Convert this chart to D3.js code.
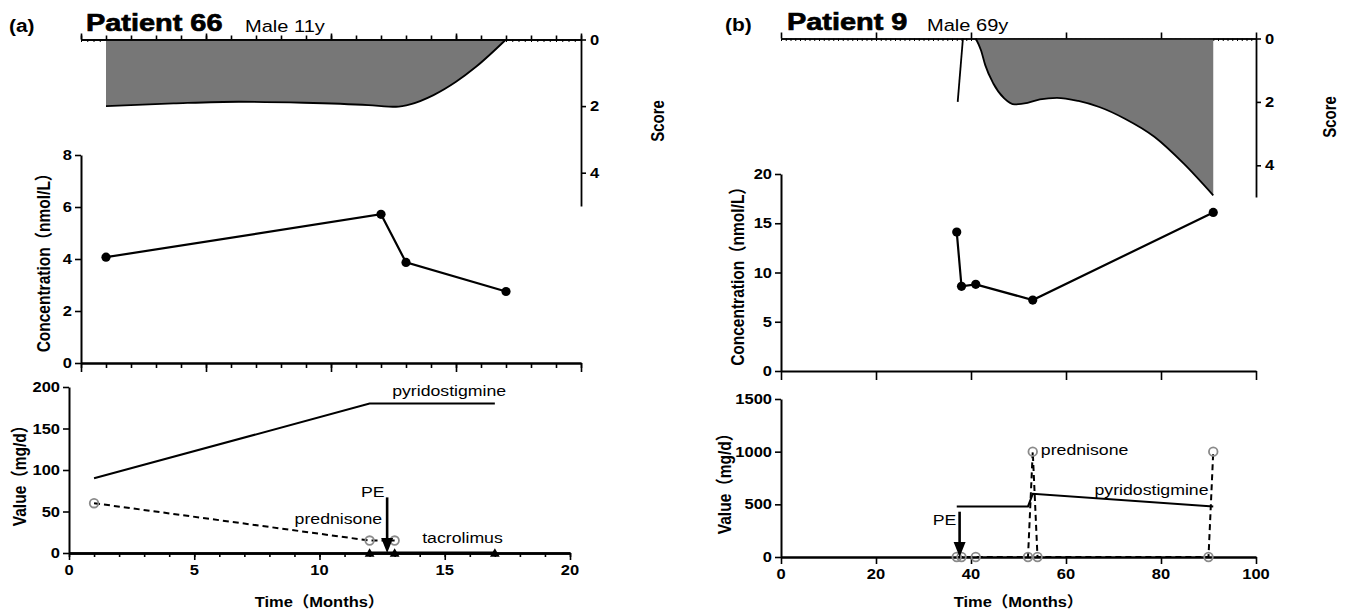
<!DOCTYPE html>
<html><head><meta charset="utf-8">
<script src="https://cdn.jsdelivr.net/npm/d3@7"></script>
<style>
body{margin:0;background:#fff}
svg{display:block}
text{font-family:"Liberation Sans",Arial,"Noto Sans CJK SC",sans-serif;fill:#000}
</style>
</head><body>
<svg id="c" width="1352" height="611"></svg>
<script>
// ---------------- DATA ----------------
// Panel (a) – Patient 66
const aScoreMonths = [1, 3.7, 6.3, 8.9, 11.5, 12.6, 13.2, 14.1, 15, 15.8, 17];
const aScoreValues = [2, 1.92, 1.87, 1.9, 1.97, 2.02, 1.94, 1.67, 1.27, 0.82, 0];
const aConcMonths = [1, 12, 13, 17];
const aConcValues = [4.07, 5.72, 3.87, 2.75];
const aPyrMonths = [1, 12, 17];
const aPyrValues = [90, 180, 180];
const aPredMonths = [1, 12, 13];
const aPredValues = [60, 15, 15];
const aTacMonths = [12, 13, 17];
const aTacValues = [0, 0, 0];
const aPEMonth = 12.7, aPEValue = 67;
const aXTicks = [0, 5, 10, 15, 20];
const aConcTicks = [0, 2, 4, 6, 8];
const aDoseTicks = [0, 50, 100, 150, 200];

// Panel (b) – Patient 9
const bSpikeMonths = [37.2, 38.3];
const bSpikeValues = [2, 0];
const bScoreMonths = [41, 42.1, 43, 44.7, 47, 49.2, 51.9, 54.5, 58.1, 62.6, 67, 72.4, 78.6, 84.8, 91];
const bScoreValues = [0, 0.37, 0.84, 1.42, 1.89, 2.08, 2.03, 1.92, 1.87, 1.97, 2.16, 2.53, 3.1, 3.95, 4.95];
const bConcMonths = [37, 38, 41, 53, 91];
const bConcValues = [14.1, 8.6, 8.8, 7.2, 16.1];
const bPyrMonths = [37, 52, 53, 91];
const bPyrValues = [480, 480, 600, 480];
const bPredMonths = [37, 38, 41, 52, 53, 54, 90, 91];
const bPredValues = [0, 0, 0, 0, 1000, 0, 0, 1000];
const bPEMonth = 37.6, bPEValue = 430;
const bXTicks = [0, 20, 40, 60, 80, 100];
const bConcTicks = [0, 5, 10, 15, 20];
const bDoseTicks = [0, 500, 1000, 1500];
const scoreTicks = [0, 2, 4];

// ---------------- DRAW ----------------
const svg = d3.select("#c");
const SX = 1.18; // horizontal stretch of the source figure's lettering

function txt(g, x, y, s, opt = {}) {
  const t = g.append("text")
    .attr("transform", `translate(${x},${y}) scale(${opt.sx || SX},1)` + (opt.rot ? " rotate(-90)" : ""))
    .attr("text-anchor", opt.anchor || "start")
    .attr("font-size", opt.size || 15)
    .attr("font-weight", opt.bold ? "bold" : "normal")
    .text(s);
  if (opt.baseline) t.attr("dominant-baseline", opt.baseline);
  if (opt.heavy) t.attr("stroke", "#000").attr("stroke-width", opt.heavy);
  return t;
}

function styleAxis(g, w) {
  g.select(".domain").attr("stroke", "#000").attr("stroke-width", w || 2);
  g.selectAll(".tick line").attr("stroke", "#000").attr("stroke-width", 1.6);
  g.selectAll(".tick text").remove();
}

function axisLabels(g, scale, ticks, orient, off) {
  ticks.forEach(v => {
    if (orient === "left") txt(g, -off, scale(v), String(v), {anchor: "end", size: 14, bold: true, baseline: "central"});
    else if (orient === "right") txt(g, off, scale(v), String(v), {anchor: "start", size: 14, bold: true, baseline: "central"});
    else txt(g, scale(v), off, String(v), {anchor: "middle", size: 14, bold: true, baseline: "hanging"});
  });
}

function panel(cfg, d) {
  const g = svg.append("g");
  // Header
  txt(g, cfg.hdr.lx, cfg.hdr.y, cfg.label, {size: 19, bold: true, sx: 1.1});
  txt(g, cfg.hdr.px, cfg.hdr.y - 1, cfg.patient, {size: 24.5, bold: true, heavy: 0.7});
  txt(g, cfg.hdr.mx, cfg.hdr.y, cfg.info, {size: 17});

  // ----- Score panel -----
  const xT = d3.scaleLinear().domain(cfg.xDomain).range([cfg.top.x0, cfg.top.x1]);
  const yS = d3.scaleLinear().domain([0, 5]).range([cfg.top.y0, cfg.top.y1]);
  const area = d3.area().x(p => xT(p[0])).y0(yS(0)).y1(p => yS(p[1])).curve(d3.curveMonotoneX);
  const line = d3.line().x(p => xT(p[0])).y(p => yS(p[1])).curve(d3.curveMonotoneX);
  // small downward ticks on top axis
  const gTd = g.append("g").attr("transform", `translate(0,${yS(0)})`);
  gTd.call(d3.axisBottom(xT).tickValues(d3.range(cfg.xDomain[0], cfg.xDomain[1] + 0.01, cfg.dotStep)).tickSize(2.5).tickSizeOuter(0));
  styleAxis(gTd, 1.6);
  gTd.selectAll(".tick line").attr("stroke-width", 1);
  d.score.forEach(seg => {
    const pts = d3.zip(seg.m, seg.v);
    if (seg.fill) g.append("path").attr("d", area(pts)).attr("fill", "#777");
    g.append("path").attr("d", line(pts)).attr("fill", "none").attr("stroke", "#000").attr("stroke-width", 1.8);
  });
  // upward ticks
  if (cfg.minorStep) {
    const gTop = g.append("g").attr("transform", `translate(0,${yS(0)})`);
    gTop.call(d3.axisTop(xT).tickValues(d3.range(cfg.xDomain[0], cfg.xDomain[1] + 0.01, cfg.minorStep)).tickSize(4).tickSizeOuter(0));
    styleAxis(gTop, 1.6);
  }
  const gTop2 = g.append("g").attr("transform", `translate(0,${yS(0)})`);
  gTop2.call(d3.axisTop(xT).tickValues(d.xTicks).tickSize(6).tickSizeOuter(0));
  styleAxis(gTop2, 1.6);
  // right score axis
  const gR = g.append("g").attr("transform", `translate(${cfg.top.x1},0)`);
  gR.call(d3.axisRight(yS).tickValues(scoreTicks).tickSize(5).tickSizeOuter(0));
  styleAxis(gR, 1.8);
  axisLabels(gR, yS, scoreTicks, "right", 9);
  txt(g, cfg.scoreLblX, cfg.scoreLblY, "Score", {size: 15, bold: true, rot: true, anchor: "middle"});

  // ----- Concentration panel -----
  const xM = d3.scaleLinear().domain(cfg.xDomain).range([cfg.mid.x0, cfg.mid.x1]);
  const yC = d3.scaleLinear().domain(cfg.mid.dom).range([cfg.mid.y0, cfg.mid.y1]);
  const gMx = g.append("g").attr("transform", `translate(0,${yC(0)})`);
  if (cfg.minorMid) {
    gMx.call(d3.axisBottom(xM).tickValues(d3.range(cfg.xDomain[0], cfg.xDomain[1] + 0.01, cfg.minorMid)).tickSize(5).tickSizeOuter(0));
    styleAxis(gMx, 2);
  }
  const gMx2 = g.append("g").attr("transform", `translate(0,${yC(0)})`);
  gMx2.call(d3.axisBottom(xM).tickValues(d.xTicks).tickSize(9).tickSizeOuter(0));
  styleAxis(gMx2, 2);
  const gMy = g.append("g").attr("transform", `translate(${cfg.mid.x0},0)`);
  gMy.call(d3.axisLeft(yC).tickValues(d.concTicks).tickSize(6).tickSizeOuter(0));
  styleAxis(gMy, 2);
  axisLabels(gMy, yC, d.concTicks, "left", 9);
  const cPts = d3.zip(d.concM, d.concV);
  g.append("path").attr("d", d3.line().x(p => xM(p[0])).y(p => yC(p[1]))(cPts))
    .attr("fill", "none").attr("stroke", "#000").attr("stroke-width", 2.2);
  g.selectAll(null).data(cPts).enter().append("circle")
    .attr("cx", p => xM(p[0])).attr("cy", p => yC(p[1])).attr("r", 4.6).attr("fill", "#000");
  txt(g, cfg.concLblX, (cfg.mid.y0 + cfg.mid.y1) / 2 + cfg.concLblDy, "Concentration（nmol/L）", {size: 15.5, bold: true, rot: true, anchor: "middle"});

  // ----- Dose panel -----
  const xB = d3.scaleLinear().domain(cfg.xDomain).range([cfg.bot.x0, cfg.bot.x1]);
  const yD = d3.scaleLinear().domain(cfg.bot.dom).range([cfg.bot.y0, cfg.bot.y1]);
  // pyridostigmine
  g.append("path").attr("d", d3.line().x(p => xB(p[0])).y(p => yD(p[1]))(d3.zip(d.pyrM, d.pyrV)))
    .attr("fill", "none").attr("stroke", "#000").attr("stroke-width", 2);
  // prednisone dashed
  const prPts = d3.zip(d.predM, d.predV);
  g.append("path").attr("d", d3.line().x(p => xB(p[0])).y(p => yD(p[1]))(prPts))
    .attr("fill", "none").attr("stroke", "#000").attr("stroke-width", 2).attr("stroke-dasharray", "6,4");
  // tacrolimus
  if (d.tacM) {
    const tPts = d3.zip(d.tacM, d.tacV);
    g.append("path").attr("d", d3.line().x(p => xB(p[0])).y(p => yD(p[1]))(tPts))
      .attr("fill", "none").attr("stroke", "#000").attr("stroke-width", 3);
  }
  // axes
  if (cfg.minorBot) {
    const gBm = g.append("g").attr("transform", `translate(0,${yD(0)})`);
    gBm.call(d3.axisBottom(xB).tickValues(d3.range(cfg.xDomain[0], cfg.xDomain[1] + 0.01, cfg.minorBot)).tickSize(4).tickSizeOuter(0));
    styleAxis(gBm, 2.6);
  }
  const gBx = g.append("g").attr("transform", `translate(0,${yD(0)})`);
  gBx.call(d3.axisBottom(xB).tickValues(d.xTicks).tickSize(7).tickSizeOuter(0));
  styleAxis(gBx, 2.6);
  axisLabels(gBx, xB, d.xTicks, "bottom", 12);
  const gBy = g.append("g").attr("transform", `translate(${cfg.bot.x0},0)`);
  gBy.call(d3.axisLeft(yD).tickValues(d.doseTicks).tickSize(6).tickSizeOuter(0));
  styleAxis(gBy, 2);
  axisLabels(gBy, yD, d.doseTicks, "left", 9);
  // prednisone circles
  g.selectAll(null).data(prPts).enter().append("circle")
    .attr("cx", p => xB(p[0])).attr("cy", p => yD(p[1])).attr("r", 4.3)
    .attr("fill", "none").attr("stroke", "#8a8a8a").attr("stroke-width", 1.8);
  if (d.tacM) {
    g.selectAll(null).data(d3.zip(d.tacM, d.tacV)).enter().append("path")
      .attr("d", d3.symbol(d3.symbolTriangle, 42))
      .attr("transform", p => `translate(${xB(p[0])},${yD(p[1]) + 1})`).attr("fill", "#000");
  }
  // PE arrow
  const ax = xB(d.peM), aTop = yD(d.peV), aBot = yD(0);
  g.append("line").attr("x1", ax).attr("x2", ax).attr("y1", aTop).attr("y2", aBot - 12)
    .attr("stroke", "#000").attr("stroke-width", 2.6);
  g.append("path").attr("d", `M${ax - 6},${aBot - 15}L${ax + 6},${aBot - 15}L${ax},${aBot}Z`).attr("fill", "#000");
  // annotations
  cfg.notes.forEach(n => txt(g, xB(n.m), yD(n.v), n.t, {size: 15, anchor: n.a || "start"}));
  txt(g, cfg.doseLblX, (cfg.bot.y0 + cfg.bot.y1) / 2 + 2, "Value（mg/d）", {size: 15.5, bold: true, rot: true, anchor: "middle"});
  txt(g, (cfg.bot.x0 + cfg.bot.x1) / 2, 607, "Time（Months）", {size: 15, bold: true, anchor: "middle", sx: 1.1});
}

panel({
  label: "(a)", patient: "Patient 66", info: "Male 11y",
  hdr: {lx: 9, px: 86, mx: 245, y: 32},
  xDomain: [0, 20], minorStep: 1, dotStep: 0.25, minorMid: 1, minorBot: 1,
  top: {x0: 81, x1: 581, y0: 39.5, y1: 206},
  scoreLblX: 664, scoreLblY: 121,
  mid: {x0: 81, x1: 581, y0: 363, y1: 155, dom: [0, 8]},
  concLblX: 50, concLblDy: 0,
  bot: {x0: 69, x1: 570, y0: 553, y1: 387, dom: [0, 200]},
  doseLblX: 26,
  notes: [
    {m: 12.9, v: 189, t: "pyridostigmine"},
    {m: 12.5, v: 35, t: "prednisone", a: "end"},
    {m: 12.6, v: 67, t: "PE", a: "end"},
    {m: 14.1, v: 12.5, t: "tacrolimus"}
  ]
}, {
  score: [{m: aScoreMonths, v: aScoreValues, fill: true}],
  xTicks: aXTicks, concTicks: aConcTicks, doseTicks: aDoseTicks,
  concM: aConcMonths, concV: aConcValues,
  pyrM: aPyrMonths, pyrV: aPyrValues,
  predM: aPredMonths, predV: aPredValues,
  tacM: aTacMonths, tacV: aTacValues,
  peM: aPEMonth, peV: aPEValue
});

panel({
  label: "(b)", patient: "Patient 9", info: "Male 69y",
  hdr: {lx: 725, px: 787, mx: 927, y: 31},
  xDomain: [0, 100], minorStep: null, dotStep: 1, minorMid: null, minorBot: null,
  top: {x0: 781, x1: 1256, y0: 38.5, y1: 197},
  scoreLblX: 1336, scoreLblY: 117,
  mid: {x0: 781, x1: 1256, y0: 371, y1: 174, dom: [0, 20]},
  concLblX: 744, concLblDy: 0,
  bot: {x0: 781, x1: 1256, y0: 557, y1: 399, dom: [0, 1500]},
  doseLblX: 731,
  notes: [
    {m: 54.7, v: 965, t: "prednisone"},
    {m: 66, v: 590, t: "pyridostigmine"},
    {m: 36.9, v: 300, t: "PE", a: "end"}
  ]
}, {
  score: [{m: bSpikeMonths, v: bSpikeValues, fill: false}, {m: bScoreMonths, v: bScoreValues, fill: true}],
  xTicks: bXTicks, concTicks: bConcTicks, doseTicks: bDoseTicks,
  concM: bConcMonths, concV: bConcValues,
  pyrM: bPyrMonths, pyrV: bPyrValues,
  predM: bPredMonths, predV: bPredValues,
  tacM: null, tacV: null,
  peM: bPEMonth, peV: bPEValue
});
</script>
</body></html>
